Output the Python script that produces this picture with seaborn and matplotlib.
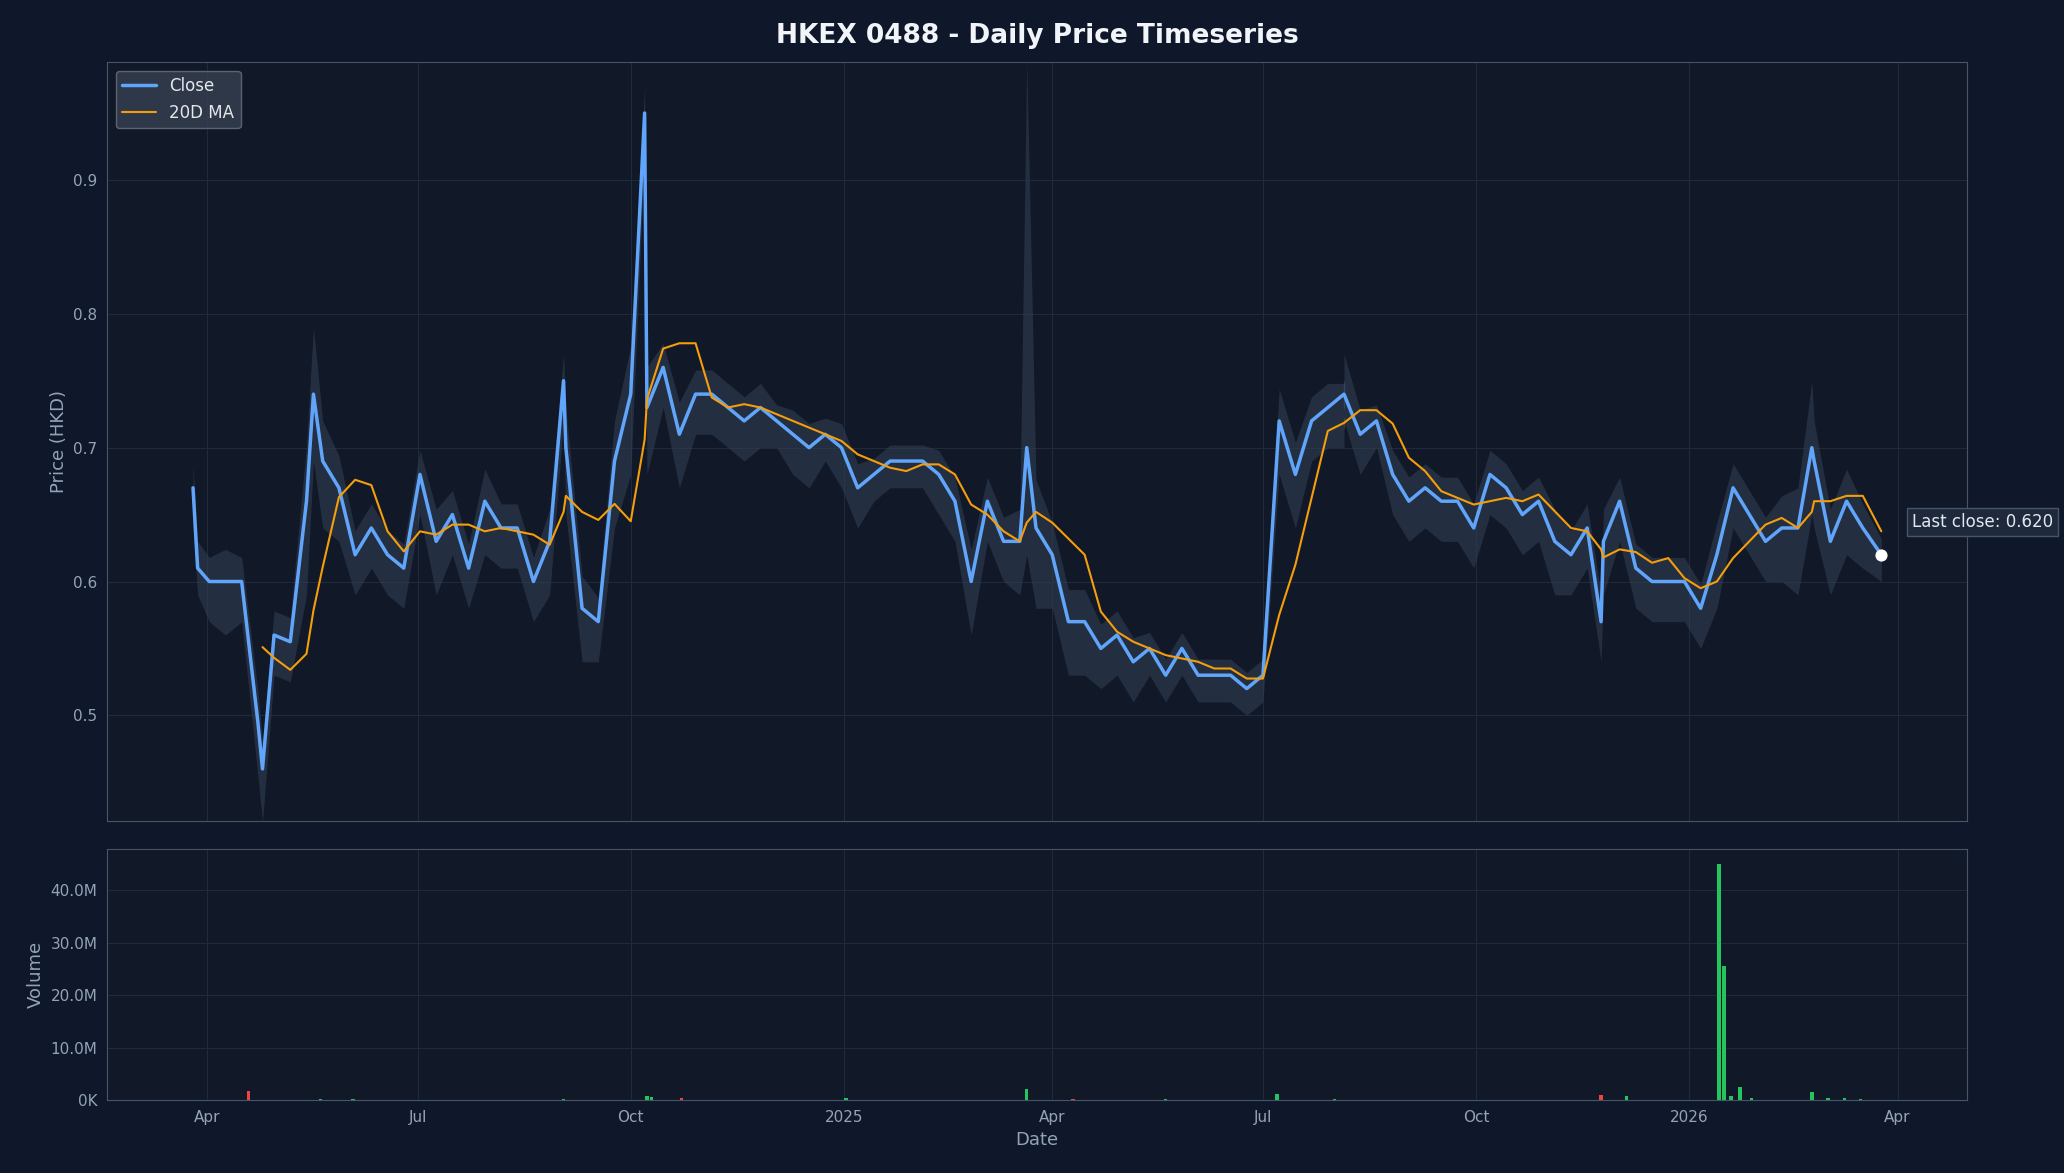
import pandas as pd
import numpy as np
import seaborn as sns
import matplotlib
matplotlib.use("Agg")
import matplotlib.pyplot as plt
import matplotlib.dates as mdates

# weekly closes, starting 2024-03-26
close_weekly = [0.67, 0.60, 0.60, 0.60, 0.495, 0.56, 0.555, 0.66, 0.69, 0.67,
                0.62, 0.64, 0.62, 0.61, 0.68, 0.63, 0.65, 0.61, 0.66, 0.64,
                0.64, 0.60, 0.63, 0.70, 0.58, 0.57, 0.69, 0.74, 0.73, 0.76,
                0.71, 0.74, 0.74, 0.73, 0.72, 0.73, 0.72, 0.71, 0.70, 0.71,
                0.70, 0.67, 0.68, 0.69, 0.69, 0.69, 0.68, 0.66, 0.60, 0.66,
                0.63, 0.63, 0.64, 0.62, 0.57, 0.57, 0.55, 0.56, 0.54, 0.55,
                0.53, 0.55, 0.53, 0.53, 0.53, 0.52, 0.53, 0.72, 0.68, 0.72,
                0.73, 0.73, 0.71, 0.72, 0.68, 0.66, 0.67, 0.66, 0.66, 0.64,
                0.68, 0.67, 0.65, 0.66, 0.63, 0.62, 0.64, 0.63, 0.66, 0.61,
                0.60, 0.60, 0.60, 0.58, 0.62, 0.67, 0.65, 0.63, 0.64, 0.64,
                0.69, 0.63, 0.66, 0.64, 0.62]
band_weekly = [0.03, 0.03, 0.04, 0.03, 0.04, 0.03, 0.03, 0.07, 0.05, 0.04,
               0.03, 0.03, 0.03, 0.03, 0.03, 0.04, 0.03, 0.03, 0.04, 0.03,
               0.03, 0.03, 0.04, 0.05, 0.04, 0.03, 0.05, 0.06, 0.05, 0.03,
               0.04, 0.03, 0.03, 0.03, 0.03, 0.03, 0.02, 0.03, 0.03, 0.02,
               0.03, 0.03, 0.02, 0.02, 0.02, 0.02, 0.03, 0.03, 0.04, 0.03,
               0.03, 0.04, 0.06, 0.04, 0.04, 0.04, 0.03, 0.03, 0.03, 0.02,
               0.02, 0.02, 0.02, 0.02, 0.02, 0.02, 0.02, 0.04, 0.04, 0.03,
               0.03, 0.03, 0.03, 0.02, 0.03, 0.03, 0.03, 0.03, 0.03, 0.03,
               0.03, 0.03, 0.03, 0.03, 0.04, 0.03, 0.03, 0.04, 0.03, 0.03,
               0.03, 0.03, 0.03, 0.03, 0.04, 0.03, 0.03, 0.03, 0.04, 0.05,
               0.05, 0.04, 0.04, 0.03, 0.02]
spike_dates = ["2024-03-28", "2024-04-25", "2024-05-17", "2024-09-02",
               "2024-10-07", "2025-03-21", "2025-08-05", "2025-11-24", "2026-02-23"]
spike_close = [0.61, 0.46, 0.74, 0.75, 0.95, 0.70, 0.75, 0.57, 0.70]
spike_band_lo = [0.02, 0.04, 0.05, 0.03, 0.03, 0.08, 0.03, 0.03, 0.05]
spike_band_hi = [0.02, 0.02, 0.05, 0.02, 0.02, 0.29, 0.02, 0.02, 0.05]
band_hi_scale = 0.6

vol_dates = ["2024-04-19", "2024-05-20", "2024-06-03", "2024-09-02", "2024-10-08",
             "2024-10-10", "2024-10-23", "2025-01-02", "2025-03-21", "2025-04-10",
             "2025-05-20", "2025-07-07", "2025-08-01", "2025-11-24", "2025-12-05",
             "2026-01-14", "2026-01-16", "2026-01-19", "2026-01-23", "2026-01-28",
             "2026-02-23", "2026-03-02", "2026-03-09", "2026-03-16"]
vol_m = [1.8, 0.3, 0.3, 0.3, 0.8, 0.6, 0.5, 0.5, 2.2, 0.3,
         0.2, 1.2, 0.3, 1.0, 0.8, 45.0, 25.5, 0.8, 2.5, 0.5,
         1.5, 0.4, 0.4, 0.3]
vol_up = [False, True, True, True, True, True, False, True, True, False,
          True, True, True, False, True, True, True, True, True, True,
          True, True, True, True]

weekly_dates = pd.date_range("2024-03-26", periods=len(close_weekly), freq="7D")
weekly_dates = weekly_dates[:-1].append(pd.DatetimeIndex(["2026-03-25"]))
df = pd.concat([
    pd.DataFrame({"Date": weekly_dates, "Close": close_weekly,
                  "lo": band_weekly, "hi": np.array(band_weekly) * band_hi_scale}),
    pd.DataFrame({"Date": pd.to_datetime(spike_dates), "Close": spike_close,
                  "lo": spike_band_lo, "hi": spike_band_hi}),
]).sort_values("Date").reset_index(drop=True)
df["MA"] = df.set_index("Date")["Close"].rolling("28D").mean().values
df.loc[df["Date"] < "2024-04-24", "MA"] = np.nan

bg = "#0f172a"
ax_bg = "#111827"
txt = "#94a3b8"
sns.set_style("dark")
plt.rcParams["font.family"] = ["DejaVu Sans"]

fig = plt.figure(figsize=(20.64, 11.73), dpi=100, facecolor=bg)
ax = fig.add_axes([0.052, 0.300, 0.901, 0.647])
axv = fig.add_axes([0.052, 0.062, 0.901, 0.214], sharex=ax)

for a in (ax, axv):
    a.set_facecolor(ax_bg)
    for s in a.spines.values():
        s.set_color("#475569")
    a.grid(True, color="#1f2a3a", linewidth=0.8)
    a.tick_params(colors=txt, labelsize=11)

ax.fill_between(df["Date"], df["Close"] - df["lo"], df["Close"] + df["hi"],
                color="#334155", alpha=0.55, linewidth=0)
sns.lineplot(data=df, x="Date", y="Close", ax=ax, color="#60a5fa", linewidth=2.5, label="Close")
sns.lineplot(data=df, x="Date", y="MA", ax=ax, color="#f59e0b", linewidth=1.5, label="20D MA")
last = df.iloc[-1]
ax.scatter([last["Date"]], [last["Close"]], color="white", s=60, zorder=5)
ax.annotate(f"Last close: {last['Close']:.3f}", (last["Date"], last["Close"]),
            xytext=(22, 20), textcoords="offset points", color="#e2e8f0", fontsize=12,
            annotation_clip=False,
            bbox=dict(boxstyle="square,pad=0.3", fc="#1e293b", ec="#475569"))
ax.set_ylim(0.421, 0.988)
ax.set_ylabel("Price (HKD)", color=txt, fontsize=13)
ax.set_xlabel("")
ax.tick_params(labelbottom=False)
leg = ax.legend(loc="upper left", fontsize=12, facecolor="#374151", edgecolor="#6b7280")
for t in leg.get_texts():
    t.set_color("#e5e7eb")
ax.set_title("HKEX 0488 - Daily Price Timeseries", color="#f1f5f9", fontsize=19,
             fontweight="bold", pad=14)

vd = pd.to_datetime(vol_dates)
axv.bar(vd, np.array(vol_m) * 1e6, width=1.5, linewidth=0,
        color=["#22c55e" if u else "#ef4444" for u in vol_up])
axv.set_ylim(0, 47.75e6)
axv.yaxis.set_major_formatter(plt.FuncFormatter(lambda v, p: f"{v/1e6:.1f}M" if v else "0K"))
axv.set_ylabel("Volume", color=txt, fontsize=13)
axv.set_xlabel("Date", color=txt, fontsize=13)
axv.set_xlim(pd.Timestamp("2024-02-18"), pd.Timestamp("2026-05-01"))
loc = mdates.MonthLocator(bymonth=[1, 4, 7, 10])
axv.xaxis.set_major_locator(loc)
fmt = mdates.ConciseDateFormatter(loc, show_offset=False)
axv.xaxis.set_major_formatter(fmt)

fig.savefig("out.png", facecolor=bg)
